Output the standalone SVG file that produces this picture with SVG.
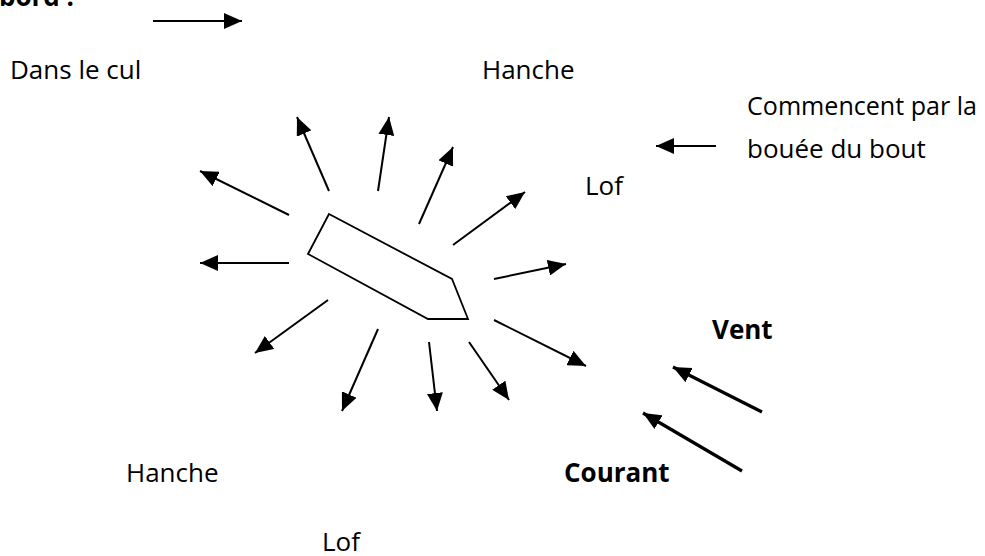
<svg xmlns="http://www.w3.org/2000/svg" width="985" height="556" viewBox="0 0 985 556">
  <style>
    .lbl { font-family: "Open Sans", "Liberation Sans", sans-serif; font-size: 26px; fill: #000; }
    .bold { font-weight: bold; }
    .ray { stroke: #000; stroke-width: 2; fill: none; marker-end: url(#head); }
    .flow { stroke: #000; stroke-width: 3.2; fill: none; marker-end: url(#head); }
    .hull { fill: #fff; stroke: #000; stroke-width: 1.8; stroke-linejoin: miter; }
  </style>
  <defs>
    <marker id="head" markerUnits="userSpaceOnUse" viewBox="0 0 18 16" markerWidth="18" markerHeight="16" refX="18" refY="8" orient="auto">
      <path d="M0,0 L18,8 L0,16 z" fill="#000"/>
    </marker>
  </defs>

  <rect width="985" height="556" fill="#fff"/>

  <!-- labels -->
  <g id="title"><text class="lbl bold" x="-1" y="6">bord :</text></g>
  <g id="dans-le-cul"><text class="lbl" x="10" y="79">Dans le cul</text></g>
  <g id="hanche-top"><text class="lbl" x="482" y="79">Hanche</text></g>
  <g id="note">
    <text class="lbl" x="747" y="115" textLength="230" lengthAdjust="spacingAndGlyphs">Commencent par la</text>
    <text class="lbl" x="747" y="158">bouée du bout</text>
  </g>
  <g id="lof-right"><text class="lbl" x="585" y="195">Lof</text></g>
  <g id="vent"><text class="lbl bold" x="712" y="339">Vent</text></g>
  <g id="courant"><text class="lbl bold" x="564" y="482">Courant</text></g>
  <g id="hanche-bottom"><text class="lbl" x="126" y="482">Hanche</text></g>
  <g id="lof-bottom"><text class="lbl" x="322" y="551">Lof</text></g>

  <!-- boat hull -->
  <g id="boat">
    <polygon class="hull" points="329,214 452,279 468,319 428,319 308,254"/>
  </g>

  <!-- connectors -->
  <g id="connectors">
    <line class="ray" x1="153" y1="21" x2="242" y2="21"/>
    <line class="ray" x1="716" y1="146" x2="656" y2="146"/>

    <line class="ray" x1="289" y1="215" x2="200" y2="171"/>
    <line class="ray" x1="289" y1="263" x2="200" y2="263"/>
    <line class="ray" x1="329" y1="191" x2="297" y2="117"/>
    <line class="ray" x1="378" y1="191" x2="389" y2="117"/>
    <line class="ray" x1="419" y1="224" x2="453" y2="147"/>
    <line class="ray" x1="453" y1="245" x2="525" y2="192"/>
    <line class="ray" x1="494" y1="279" x2="566" y2="264"/>
    <line class="ray" x1="494" y1="320" x2="586" y2="366"/>
    <line class="ray" x1="328" y1="300" x2="255" y2="353"/>
    <line class="ray" x1="378" y1="329" x2="342" y2="411"/>
    <line class="ray" x1="429" y1="342" x2="437" y2="411"/>
    <line class="ray" x1="469" y1="342" x2="509" y2="400"/>

    <line class="flow" x1="762" y1="412" x2="673" y2="367"/>
    <line class="flow" x1="742" y1="471" x2="643" y2="413"/>
  </g>
</svg>
